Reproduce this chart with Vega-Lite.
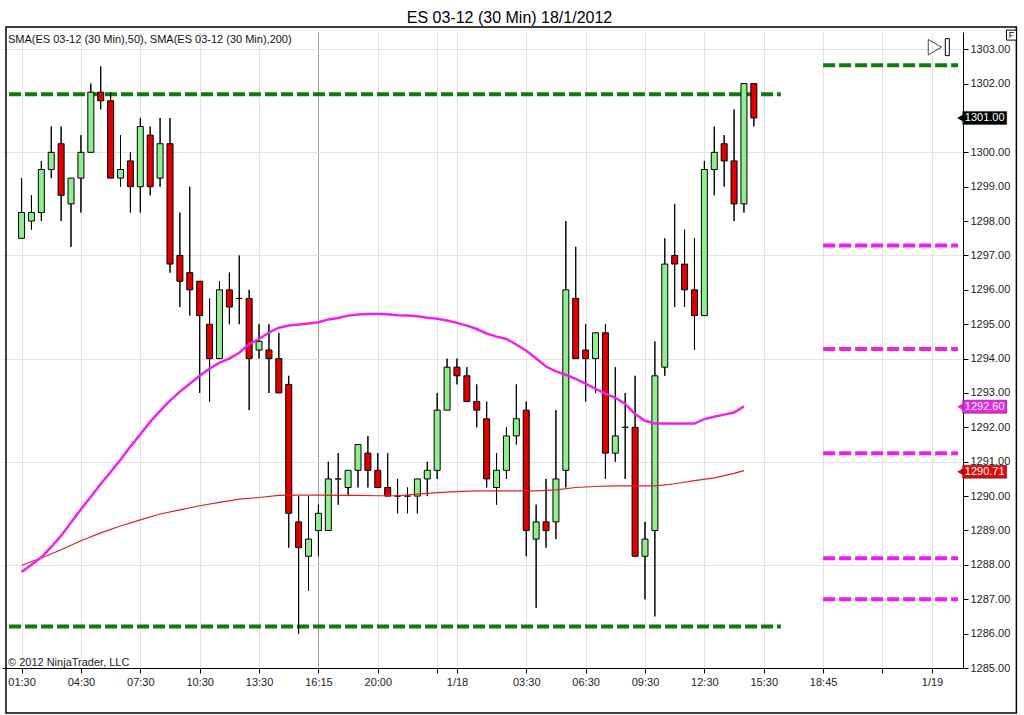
{
  "$schema": "https://vega.github.io/schema/vega-lite/v6.json",
  "width": 961,
  "height": 636,
  "autosize": {"type": "none"},
  "padding": {"left": 2, "top": 32, "right": 61, "bottom": 47},
  "background": "#ffffff",
  "title": {"text": "ES 03-12 (30 Min)  18/1/2012", "font": "Liberation Sans", "fontSize": 16, "fontWeight": "normal", "color": "#000000", "anchor": "middle", "frame": "group", "dx": 27, "offset": 0},
  "config": {"view": {"stroke": null}, "font": "Liberation Sans"},
  "resolve": {"axis": {"x": "independent", "y": "independent"}},
  "datasets": {
    "candles": [
      {"i":0,"o":1297.5,"h":1299.25,"l":1297.5,"c":1298.25},
      {"i":1,"o":1298,"h":1298.75,"l":1297.75,"c":1298.25},
      {"i":2,"o":1298.25,"h":1299.75,"l":1298,"c":1299.5},
      {"i":3,"o":1299.5,"h":1300.75,"l":1299.25,"c":1300},
      {"i":4,"o":1300.25,"h":1300.75,"l":1298,"c":1298.75},
      {"i":5,"o":1298.5,"h":1299.25,"l":1297.25,"c":1299.25},
      {"i":6,"o":1299.25,"h":1300.5,"l":1298.25,"c":1300},
      {"i":7,"o":1300,"h":1302,"l":1300,"c":1301.75},
      {"i":8,"o":1301.75,"h":1302.5,"l":1301.25,"c":1301.5},
      {"i":9,"o":1301.5,"h":1301.75,"l":1299.25,"c":1299.25},
      {"i":10,"o":1299.25,"h":1300.5,"l":1299,"c":1299.5},
      {"i":11,"o":1299.75,"h":1300,"l":1298.25,"c":1299},
      {"i":12,"o":1299,"h":1301,"l":1298.25,"c":1300.75},
      {"i":13,"o":1300.5,"h":1300.75,"l":1298.75,"c":1299},
      {"i":14,"o":1299.25,"h":1301,"l":1299,"c":1300.25},
      {"i":15,"o":1300.25,"h":1301,"l":1296.5,"c":1296.75},
      {"i":16,"o":1297,"h":1298.25,"l":1295.5,"c":1296.25},
      {"i":17,"o":1296.5,"h":1299,"l":1295.25,"c":1296},
      {"i":18,"o":1296.25,"h":1296.25,"l":1293,"c":1295.25},
      {"i":19,"o":1295,"h":1295.75,"l":1292.75,"c":1294},
      {"i":20,"o":1294,"h":1296.25,"l":1294,"c":1296},
      {"i":21,"o":1296,"h":1296.5,"l":1295,"c":1295.5},
      {"i":22,"o":1295.75,"h":1297,"l":1295,"c":1295.75},
      {"i":23,"o":1295.75,"h":1296,"l":1292.5,"c":1294},
      {"i":24,"o":1294.25,"h":1295,"l":1294,"c":1294.5},
      {"i":25,"o":1294.25,"h":1295,"l":1293,"c":1294},
      {"i":26,"o":1294,"h":1294.75,"l":1293,"c":1293},
      {"i":27,"o":1293.25,"h":1293.5,"l":1288.5,"c":1289.5},
      {"i":28,"o":1289.25,"h":1290,"l":1286,"c":1288.5},
      {"i":29,"o":1288.25,"h":1290,"l":1287.25,"c":1288.75},
      {"i":30,"o":1289,"h":1289.75,"l":1288.25,"c":1289.5},
      {"i":31,"o":1289,"h":1291,"l":1289,"c":1290.5},
      {"i":32,"o":1290.5,"h":1291.25,"l":1289.75,"c":1290.5},
      {"i":33,"o":1290.25,"h":1290.75,"l":1290,"c":1290.75},
      {"i":34,"o":1290.75,"h":1291.5,"l":1290.25,"c":1291.5},
      {"i":35,"o":1291.25,"h":1291.75,"l":1290.25,"c":1290.75},
      {"i":36,"o":1290.75,"h":1291.25,"l":1290.25,"c":1290.25},
      {"i":37,"o":1290.25,"h":1291.25,"l":1290,"c":1290},
      {"i":38,"o":1290,"h":1290.5,"l":1289.5,"c":1290},
      {"i":39,"o":1290,"h":1290.25,"l":1289.5,"c":1290},
      {"i":40,"o":1290,"h":1290.5,"l":1289.5,"c":1290.5},
      {"i":41,"o":1290.5,"h":1291,"l":1290,"c":1290.75},
      {"i":42,"o":1290.75,"h":1293,"l":1290.5,"c":1292.5},
      {"i":43,"o":1292.5,"h":1294,"l":1292.5,"c":1293.75},
      {"i":44,"o":1293.75,"h":1294,"l":1293.25,"c":1293.5},
      {"i":45,"o":1293.5,"h":1293.75,"l":1292.75,"c":1292.75},
      {"i":46,"o":1292.75,"h":1293.25,"l":1292,"c":1292.5},
      {"i":47,"o":1292.25,"h":1292.75,"l":1290.25,"c":1290.5},
      {"i":48,"o":1290.25,"h":1291.25,"l":1289.75,"c":1290.75},
      {"i":49,"o":1290.75,"h":1292,"l":1290.5,"c":1291.75},
      {"i":50,"o":1291.75,"h":1293.25,"l":1291.5,"c":1292.25},
      {"i":51,"o":1292.5,"h":1292.75,"l":1288.25,"c":1289},
      {"i":52,"o":1288.75,"h":1289.75,"l":1286.75,"c":1289.25},
      {"i":53,"o":1289.25,"h":1290.5,"l":1288.5,"c":1289},
      {"i":54,"o":1289.25,"h":1292.5,"l":1288.75,"c":1290.5},
      {"i":55,"o":1290.75,"h":1298,"l":1290.25,"c":1296},
      {"i":56,"o":1295.75,"h":1297.25,"l":1294,"c":1294},
      {"i":57,"o":1294.25,"h":1295,"l":1292.75,"c":1294},
      {"i":58,"o":1294,"h":1294.75,"l":1293,"c":1294.75},
      {"i":59,"o":1294.75,"h":1295,"l":1290.5,"c":1291.25},
      {"i":60,"o":1291.25,"h":1293.75,"l":1291,"c":1291.75},
      {"i":61,"o":1292,"h":1293,"l":1290.5,"c":1292},
      {"i":62,"o":1292,"h":1293.5,"l":1288.25,"c":1288.25},
      {"i":63,"o":1288.25,"h":1289.25,"l":1287,"c":1288.75},
      {"i":64,"o":1289,"h":1294.5,"l":1286.5,"c":1293.5},
      {"i":65,"o":1293.75,"h":1297.5,"l":1293.5,"c":1296.75},
      {"i":66,"o":1297,"h":1298.5,"l":1295.5,"c":1296.75},
      {"i":67,"o":1296.75,"h":1297.75,"l":1295.5,"c":1296},
      {"i":68,"o":1296,"h":1297.5,"l":1294.25,"c":1295.25},
      {"i":69,"o":1295.25,"h":1299.75,"l":1295.25,"c":1299.5},
      {"i":70,"o":1299.5,"h":1300.75,"l":1298.75,"c":1300},
      {"i":71,"o":1300.25,"h":1300.5,"l":1299,"c":1299.75},
      {"i":72,"o":1299.75,"h":1301.25,"l":1298,"c":1298.5},
      {"i":73,"o":1298.5,"h":1302,"l":1298.25,"c":1302},
      {"i":74,"o":1302,"h":1302,"l":1300.75,"c":1301}
    ],
    "sma50": [
      {"i":0,"v":1287.79},{"i":1,"v":1288.0},{"i":2,"v":1288.22},{"i":3,"v":1288.52},{"i":4,"v":1288.85},
      {"i":5,"v":1289.23},{"i":6,"v":1289.62},{"i":7,"v":1289.98},{"i":8,"v":1290.35},{"i":9,"v":1290.7},
      {"i":10,"v":1291.06},{"i":11,"v":1291.44},{"i":12,"v":1291.8},{"i":13,"v":1292.16},{"i":14,"v":1292.48},
      {"i":15,"v":1292.78},{"i":16,"v":1293.04},{"i":17,"v":1293.27},{"i":18,"v":1293.5},{"i":19,"v":1293.71},
      {"i":20,"v":1293.88},{"i":21,"v":1294.0},{"i":22,"v":1294.17},{"i":23,"v":1294.42},{"i":24,"v":1294.57},
      {"i":25,"v":1294.76},{"i":26,"v":1294.9},{"i":27,"v":1294.96},{"i":28,"v":1294.99},{"i":29,"v":1295.02},
      {"i":30,"v":1295.06},{"i":31,"v":1295.14},{"i":32,"v":1295.18},{"i":33,"v":1295.25},{"i":34,"v":1295.28},
      {"i":35,"v":1295.3},{"i":36,"v":1295.3},{"i":37,"v":1295.29},{"i":38,"v":1295.26},{"i":39,"v":1295.25},
      {"i":40,"v":1295.23},{"i":41,"v":1295.19},{"i":42,"v":1295.16},{"i":43,"v":1295.11},{"i":44,"v":1295.04},
      {"i":45,"v":1294.96},{"i":46,"v":1294.86},{"i":47,"v":1294.73},{"i":48,"v":1294.64},{"i":49,"v":1294.57},
      {"i":50,"v":1294.41},{"i":51,"v":1294.23},{"i":52,"v":1294.0},{"i":53,"v":1293.77},{"i":54,"v":1293.63},
      {"i":55,"v":1293.53},{"i":56,"v":1293.41},{"i":57,"v":1293.27},{"i":58,"v":1293.12},{"i":59,"v":1292.98},
      {"i":60,"v":1292.86},{"i":61,"v":1292.68},{"i":62,"v":1292.39},{"i":63,"v":1292.19},{"i":64,"v":1292.11},
      {"i":65,"v":1292.11},{"i":66,"v":1292.11},{"i":67,"v":1292.11},{"i":68,"v":1292.11},{"i":69,"v":1292.24},
      {"i":70,"v":1292.31},{"i":71,"v":1292.37},{"i":72,"v":1292.43},{"i":73,"v":1292.61}
    ],
    "sma200": [
      {"i":0,"v":1287.99},{"i":2,"v":1288.2},{"i":4,"v":1288.44},{"i":6,"v":1288.7},{"i":8,"v":1288.93},
      {"i":10,"v":1289.13},{"i":12,"v":1289.31},{"i":14,"v":1289.48},{"i":16,"v":1289.6},{"i":18,"v":1289.72},
      {"i":20,"v":1289.82},{"i":22,"v":1289.91},{"i":24,"v":1289.96},{"i":26,"v":1290.02},{"i":28,"v":1290.03},
      {"i":30,"v":1290.03},{"i":32,"v":1290.02},{"i":34,"v":1290.02},{"i":36,"v":1290.01},{"i":38,"v":1290.01},
      {"i":40,"v":1290.06},{"i":42,"v":1290.1},{"i":44,"v":1290.13},{"i":46,"v":1290.15},{"i":48,"v":1290.15},
      {"i":50,"v":1290.15},{"i":52,"v":1290.15},{"i":54,"v":1290.18},{"i":56,"v":1290.25},{"i":58,"v":1290.28},
      {"i":60,"v":1290.3},{"i":62,"v":1290.3},{"i":64,"v":1290.3},{"i":66,"v":1290.36},{"i":68,"v":1290.45},
      {"i":70,"v":1290.53},{"i":72,"v":1290.66},{"i":73,"v":1290.74}
    ],
    "levels": [
      {"x1":-1.27,"x2":76.73,"v":1301.69,"kind":"green"},
      {"x1":-1.27,"x2":76.73,"v":1286.21,"kind":"green"},
      {"x1":81,"x2":94.63,"v":1302.53,"kind":"green"},
      {"x1":81,"x2":94.63,"v":1297.29,"kind":"magenta"},
      {"x1":81,"x2":94.63,"v":1294.28,"kind":"magenta"},
      {"x1":81,"x2":94.63,"v":1291.25,"kind":"magenta"},
      {"x1":81,"x2":94.63,"v":1288.19,"kind":"magenta"},
      {"x1":81,"x2":94.63,"v":1287.0,"kind":"magenta"}
    ],
    "markers": [
      {"v":1301.0,"label":"1301.00","kind":"last"},
      {"v":1292.6,"label":"1292.60","kind":"sma50"},
      {"v":1290.71,"label":"1290.71","kind":"sma200"}
    ]
  },
  "layer": [
    {
      "data": {"name": "candles"},
      "mark": {"type": "rule", "color": "#000000", "strokeWidth": 1},
      "encoding": {
        "x": {"field": "i", "type": "quantitative", "scale": {"domain": [-1.47, 94.63], "nice": false, "zero": false},
          "axis": {"orient": "bottom", "title": null, "values": [0,6,12,18,24,30,36,42,44,51,57,63,69,75,81,87,92],
            "labelExpr": "datum.value == 0 ? '01:30' : datum.value == 6 ? '04:30' : datum.value == 12 ? '07:30' : datum.value == 18 ? '10:30' : datum.value == 24 ? '13:30' : datum.value == 30 ? '16:15' : datum.value == 36 ? '20:00' : datum.value == 44 ? '1/18' : datum.value == 51 ? '03:30' : datum.value == 57 ? '06:30' : datum.value == 63 ? '09:30' : datum.value == 69 ? '12:30' : datum.value == 75 ? '15:30' : datum.value == 81 ? '18:45' : datum.value == 92 ? '1/19' : ''",
            "grid": true, "gridColor": "#e2e2e2",
            "tickSize": 5, "tickColor": "#000000", "domainColor": "#000000",
            "labelFontSize": 11, "labelColor": "#222222", "labelPadding": 3}},
        "y": {"field": "l", "type": "quantitative", "scale": {"domain": [1285, 1303.5], "nice": false, "zero": false},
          "axis": {"orient": "right", "title": null, "values": [1285,1286,1287,1288,1289,1290,1291,1292,1293,1294,1295,1296,1297,1298,1299,1300,1301,1302,1303],
            "format": ".2f", "labelExpr": "datum.value == 1301 ? '' : datum.label", "grid": false,
            "tickSize": 5, "tickColor": "#000000", "domainColor": "#000000",
            "labelFontSize": 11, "labelColor": "#222222", "labelPadding": 2}},
        "y2": {"field": "h"}
      }
    },
    {
      "data": {"name": "candles"},
      "mark": {"type": "rule", "color": "#000000", "strokeWidth": 1, "opacity": 0},
      "encoding": {
        "x": {"field": "i", "type": "quantitative", "scale": {"domain": [-1.47, 94.63], "nice": false, "zero": false},
          "axis": {"orient": "top", "title": null, "values": [30], "grid": true, "gridColor": "#a0a0a0", "labels": false, "ticks": false, "domain": false}},
        "y": {"field": "l", "type": "quantitative", "scale": {"domain": [1285, 1303.5], "nice": false, "zero": false},
          "axis": {"orient": "left", "title": null, "values": [1288,1291,1294,1297,1300,1303], "grid": true, "gridColor": "#e2e2e2", "labels": false, "ticks": false, "domain": false}},
        "y2": {"field": "h"}
      }
    },
    {
      "data": {"values": [{"box": "frame"}]},
      "mark": {"type": "rect", "filled": false, "fillOpacity": 0, "stroke": "#000000", "strokeWidth": 1.5},
      "encoding": {
        "x": {"datum": -1.57, "type": "quantitative", "scale": {"domain": [-1.47, 94.63], "nice": false, "zero": false}, "axis": null},
        "x2": {"datum": 100.53},
        "y": {"datum": 1303.645, "type": "quantitative", "scale": {"domain": [1285, 1303.5], "nice": false, "zero": false}, "axis": null},
        "y2": {"datum": 1283.69}
      }
    },
    {
      "data": {"name": "levels"},
      "mark": {"type": "rule", "strokeWidth": 4, "strokeDash": [12, 4]},
      "encoding": {
        "x": {"field": "x1", "type": "quantitative", "scale": {"domain": [-1.47, 94.63], "nice": false, "zero": false}, "axis": null},
        "x2": {"field": "x2"},
        "y": {"field": "v", "type": "quantitative", "scale": {"domain": [1285, 1303.5], "nice": false, "zero": false}, "axis": null},
        "color": {"field": "kind", "type": "nominal", "legend": null,
          "scale": {"domain": ["green","magenta","last","sma50","sma200"], "range": ["#0b7d0b","#f01ef0","#000000","#ee22ee","#e00a0a"]}}
      }
    },
    {
      "data": {"name": "candles"},
      "mark": {"type": "rule", "color": "#000000", "strokeWidth": 1},
      "encoding": {
        "x": {"field": "i", "type": "quantitative", "scale": {"domain": [-1.47, 94.63], "nice": false, "zero": false}, "axis": null},
        "y": {"field": "l", "type": "quantitative", "scale": {"domain": [1285, 1303.5], "nice": false, "zero": false}, "axis": null},
        "y2": {"field": "h"}
      }
    },
    {
      "data": {"name": "candles"},
      "mark": {"type": "bar", "size": 6, "stroke": "#000000", "strokeWidth": 1, "orient": "vertical"},
      "encoding": {
        "x": {"field": "i", "type": "quantitative", "scale": {"domain": [-1.47, 94.63], "nice": false, "zero": false}, "axis": null},
        "y": {"field": "o", "type": "quantitative", "scale": {"domain": [1285, 1303.5], "nice": false, "zero": false}, "axis": null},
        "y2": {"field": "c"},
        "fill": {"condition": {"test": "datum.c >= datum.o", "value": "#90ee90"}, "value": "#e00000"}
      }
    },
    {
      "data": {"name": "sma200"},
      "mark": {"type": "line", "color": "#e02020", "strokeWidth": 1.2},
      "encoding": {
        "x": {"field": "i", "type": "quantitative", "scale": {"domain": [-1.47, 94.63], "nice": false, "zero": false}, "axis": null},
        "y": {"field": "v", "type": "quantitative", "scale": {"domain": [1285, 1303.5], "nice": false, "zero": false}, "axis": null}
      }
    },
    {
      "data": {"name": "sma50"},
      "mark": {"type": "line", "color": "#ee22ee", "strokeWidth": 2.5},
      "encoding": {
        "x": {"field": "i", "type": "quantitative", "scale": {"domain": [-1.47, 94.63], "nice": false, "zero": false}, "axis": null},
        "y": {"field": "v", "type": "quantitative", "scale": {"domain": [1285, 1303.5], "nice": false, "zero": false}, "axis": null}
      }
    },
    {
      "data": {"values": [{"label": "SMA(ES 03-12 (30 Min),50), SMA(ES 03-12 (30 Min),200)"}]},
      "mark": {"type": "text", "align": "left", "baseline": "middle", "font": "Liberation Sans", "fontSize": 11, "color": "#111111"},
      "encoding": {
        "x": {"datum": -1.37, "type": "quantitative", "scale": {"domain": [-1.47, 94.63], "nice": false, "zero": false}, "axis": null},
        "y": {"datum": 1303.27, "type": "quantitative", "scale": {"domain": [1285, 1303.5], "nice": false, "zero": false}, "axis": null},
        "text": {"field": "label"}
      }
    },
    {
      "data": {"values": [{"label": "© 2012 NinjaTrader, LLC"}]},
      "mark": {"type": "text", "align": "left", "baseline": "middle", "font": "Liberation Sans", "fontSize": 11, "color": "#222222"},
      "encoding": {
        "x": {"datum": -1.37, "type": "quantitative", "scale": {"domain": [-1.47, 94.63], "nice": false, "zero": false}, "axis": null},
        "y": {"datum": 1285.15, "type": "quantitative", "scale": {"domain": [1285, 1303.5], "nice": false, "zero": false}, "axis": null},
        "text": {"field": "label"}
      }
    },
    {
      "data": {"name": "markers"},
      "mark": {"type": "point", "shape": "triangle-left", "filled": true, "size": 110, "opacity": 1},
      "encoding": {
        "x": {"datum": 95.0, "type": "quantitative", "scale": {"domain": [-1.47, 94.63], "nice": false, "zero": false}, "axis": null},
        "y": {"field": "v", "type": "quantitative", "scale": {"domain": [1285, 1303.5], "nice": false, "zero": false}, "axis": null},
        "color": {"field": "kind", "type": "nominal", "legend": null,
          "scale": {"domain": ["green","magenta","last","sma50","sma200"], "range": ["#0b7d0b","#f01ef0","#000000","#ee22ee","#e00a0a"]}}
      }
    },
    {
      "data": {"name": "markers"},
      "mark": {"type": "tick", "orient": "horizontal", "size": 44, "thickness": 13, "opacity": 1, "stroke": "#222222", "strokeWidth": 0.5},
      "encoding": {
        "x": {"datum": 97.33, "type": "quantitative", "scale": {"domain": [-1.47, 94.63], "nice": false, "zero": false}, "axis": null},
        "y": {"field": "v", "type": "quantitative", "scale": {"domain": [1285, 1303.5], "nice": false, "zero": false}, "axis": null},
        "fill": {"field": "kind", "type": "nominal", "legend": null,
          "scale": {"domain": ["green","magenta","last","sma50","sma200"], "range": ["#0b7d0b","#f01ef0","#000000","#ee22ee","#e00a0a"]}}
      }
    },
    {
      "data": {"name": "markers"},
      "mark": {"type": "text", "align": "center", "baseline": "middle", "font": "Liberation Sans", "fontSize": 11, "color": "#ffffff"},
      "encoding": {
        "x": {"datum": 97.33, "type": "quantitative", "scale": {"domain": [-1.47, 94.63], "nice": false, "zero": false}, "axis": null},
        "y": {"field": "v", "type": "quantitative", "scale": {"domain": [1285, 1303.5], "nice": false, "zero": false}, "axis": null},
        "text": {"field": "label"}
      }
    },
    {
      "data": {"values": [{"icon": "nav"}]},
      "mark": {"type": "point", "shape": "triangle-right", "filled": false, "size": 240, "stroke": "#444444", "strokeWidth": 1, "opacity": 1},
      "encoding": {
        "x": {"datum": 92.3, "type": "quantitative", "scale": {"domain": [-1.47, 94.63], "nice": false, "zero": false}, "axis": null},
        "y": {"datum": 1303.06, "type": "quantitative", "scale": {"domain": [1285, 1303.5], "nice": false, "zero": false}, "axis": null}
      }
    },
    {
      "data": {"values": [{"icon": "navbar"}]},
      "mark": {"type": "tick", "orient": "vertical", "size": 17, "thickness": 4, "fill": "#ffffff", "stroke": "#000000", "strokeWidth": 1, "opacity": 1},
      "encoding": {
        "x": {"datum": 93.55, "type": "quantitative", "scale": {"domain": [-1.47, 94.63], "nice": false, "zero": false}, "axis": null},
        "y": {"datum": 1303.06, "type": "quantitative", "scale": {"domain": [1285, 1303.5], "nice": false, "zero": false}, "axis": null}
      }
    },
    {
      "data": {"values": [{"icon": "F"}]},
      "mark": {"type": "point", "shape": "square", "filled": true, "size": 100, "fill": "#ffffff", "stroke": "#000000", "strokeWidth": 1, "opacity": 1},
      "encoding": {
        "x": {"datum": 100.03, "type": "quantitative", "scale": {"domain": [-1.47, 94.63], "nice": false, "zero": false}, "axis": null},
        "y": {"datum": 1303.41, "type": "quantitative", "scale": {"domain": [1285, 1303.5], "nice": false, "zero": false}, "axis": null}
      }
    },
    {
      "data": {"values": [{"icon": "F"}]},
      "mark": {"type": "text", "align": "center", "baseline": "middle", "font": "Liberation Sans", "fontSize": 9, "color": "#000000"},
      "encoding": {
        "x": {"datum": 100.03, "type": "quantitative", "scale": {"domain": [-1.47, 94.63], "nice": false, "zero": false}, "axis": null},
        "y": {"datum": 1303.41, "type": "quantitative", "scale": {"domain": [1285, 1303.5], "nice": false, "zero": false}, "axis": null},
        "text": {"field": "icon"}
      }
    }
  ]
}
